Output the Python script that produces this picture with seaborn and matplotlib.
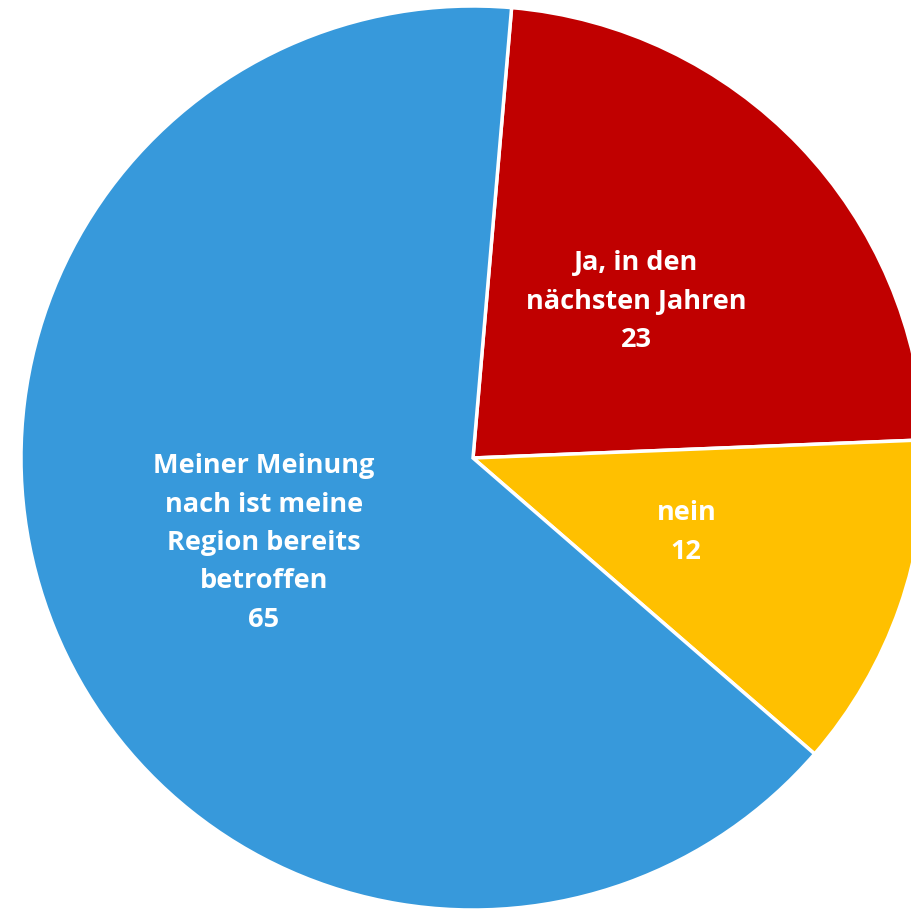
import matplotlib.pyplot as plt
import seaborn as sns

sns.set_theme(style="white")
plt.rcParams["font.family"] = ["Open Sans", "DejaVu Sans"]

# data
antworten = ["Ja, in den\nnächsten Jahren", "nein", "Meiner Meinung\nnach ist meine\nRegion bereits\nbetroffen"]
werte = [23, 12, 65]
farben = ["#C00000", "#FFC000", "#3799DB"]

fig = plt.figure(figsize=(9.11, 9.09), dpi=100)
ax = fig.add_axes([21 / 911, -1 / 909, 904 / 911, 904 / 909])

beschriftung = [f"{a}\n{w}" for a, w in zip(antworten, werte)]
wedges, texts = ax.pie(
    werte,
    labels=beschriftung,
    colors=farben,
    startangle=85.1,
    counterclock=False,
    labeldistance=0.5,
    radius=1,
    wedgeprops={"edgecolor": "white", "linewidth": 2.5},
)
for t in texts:
    t.set_ha("center")
    t.set_va("center")
    t.set_multialignment("center")
    t.set_color("white")
    t.set_fontweight("bold")
    t.set_fontsize(19.5)
    t.set_linespacing(1.62)

ax.set_xlim(-1, 1)
ax.set_ylim(-1, 1)
ax.set_aspect("equal")
ax.axis("off")

fig.savefig("out.png", dpi=100)
